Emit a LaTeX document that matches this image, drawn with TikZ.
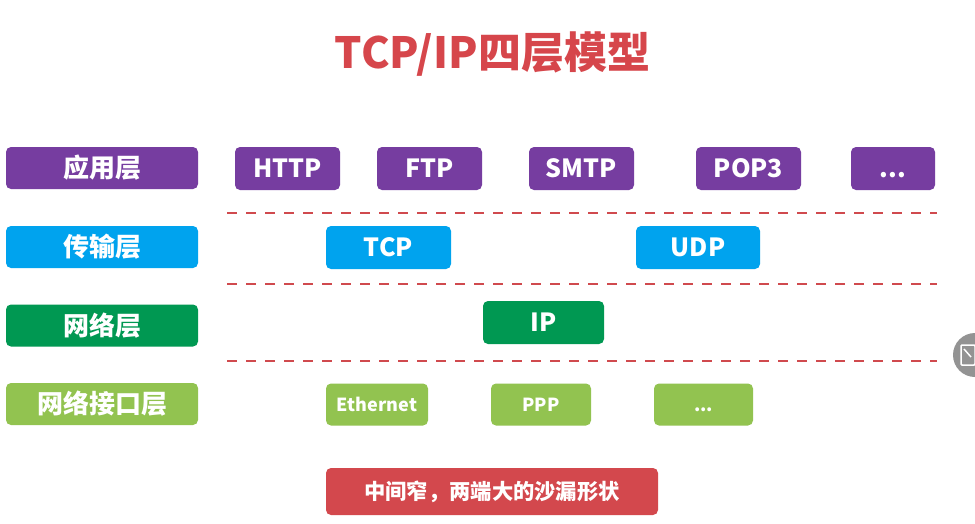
\documentclass[tikz,border=0pt]{standalone}
\usepackage{fontspec}
\newfontfamily\cjk{Noto Sans CJK SC}
\definecolor{cpurple}{RGB}{118,61,160}
\definecolor{cblue}{RGB}{0,163,238}
\definecolor{cgreen}{RGB}{0,152,82}
\definecolor{clgreen}{RGB}{146,195,80}
\definecolor{cred}{RGB}{211,72,77}
\definecolor{ctitle}{RGB}{214,70,75}
\definecolor{cdash}{RGB}{208,74,78}
\begin{document}
\begin{tikzpicture}[x=1pt,y=-1pt,
  box/.style={rounded corners=5pt, text=white, inner sep=0pt, font=\cjk\bfseries\fontsize{25}{25}\selectfont},
  layer/.style={box, minimum width=192pt, minimum height=42pt, font=\cjk\bfseries\fontsize{26}{26}\selectfont},
  pb/.style={box, minimum height=43pt},
  small/.style={box, minimum height=42pt, font=\cjk\bfseries\fontsize{18}{18}\selectfont},
  sep/.style={cdash, line width=2pt, dash pattern=on 10pt off 9pt}]
\fill[white] (0,0) rectangle (975,523);
\useasboundingbox (0,0) rectangle (975,523);
\node[text=ctitle, font=\cjk\bfseries\fontsize{43}{43}\selectfont] (title) at (492.5,54) {TCP/IP四层模型};
% layer labels
\node[layer, fill=cpurple] (app) at (102,168) {应用层};
\node[layer, fill=cblue] (trans) at (102,247) {传输层};
\node[layer, fill=cgreen] (net) at (102,325.5) {网络层};
\node[layer, fill=clgreen] (link) at (102,404) {网络接口层};
% application row
\node[pb, fill=cpurple, minimum width=105pt] (http) at (287.5,168.5) {HTTP};
\node[pb, fill=cpurple, minimum width=105pt] (ftp) at (429.5,168.5) {FTP};
\node[pb, fill=cpurple, minimum width=105pt] (smtp) at (581.5,168.5) {SMTP};
\node[pb, fill=cpurple, minimum width=105pt] (pop) at (748.5,168.5) {POP3};
\node[pb, fill=cpurple, minimum width=84pt] (appmore) at (893,168.5) {\vphantom{P}...};
% transport row
\node[pb, fill=cblue, minimum width=125pt] (tcp) at (388.5,247.5) {TCP};
\node[pb, fill=cblue, minimum width=124pt] (udp) at (698,247.5) {UDP};
% network row
\node[pb, fill=cgreen, minimum width=121pt] (ip) at (543.5,322.5) {IP};
% link row
\node[small, fill=clgreen, minimum width=102pt] (eth) at (377,404.5) {Ethernet};
\node[small, fill=clgreen, minimum width=100pt] (ppp) at (541,404.5) {PPP};
\node[small, fill=clgreen, minimum width=99pt] (linkmore) at (703.5,404.5) {\vphantom{P}...};
% bottom note
\node[box, fill=cred, minimum width=332pt, minimum height=47pt, font=\cjk\bfseries\fontsize{21.3}{21.3}\selectfont] (note) at (492,491.5) {中间窄，两端大的沙漏形状};
% separators
\coordinate (s1a) at (227,213); \coordinate (s1b) at (937,213);
\coordinate (s2a) at (227,284); \coordinate (s2b) at (937,284);
\coordinate (s3a) at (227,361); \coordinate (s3b) at (937,361);
\draw[sep] (s1a) -- (s1b);
\draw[sep] (s2a) -- (s2b);
\draw[sep] (s3a) -- (s3b);
% side overlay button
\fill[gray!85] (975,355) circle (22pt);
\draw[white, line width=1.5pt, rounded corners=1pt] (961,345) rectangle (975,365);
\draw[white, line width=1.5pt] (964,349) -- (971,357);
\end{tikzpicture}
\end{document}
